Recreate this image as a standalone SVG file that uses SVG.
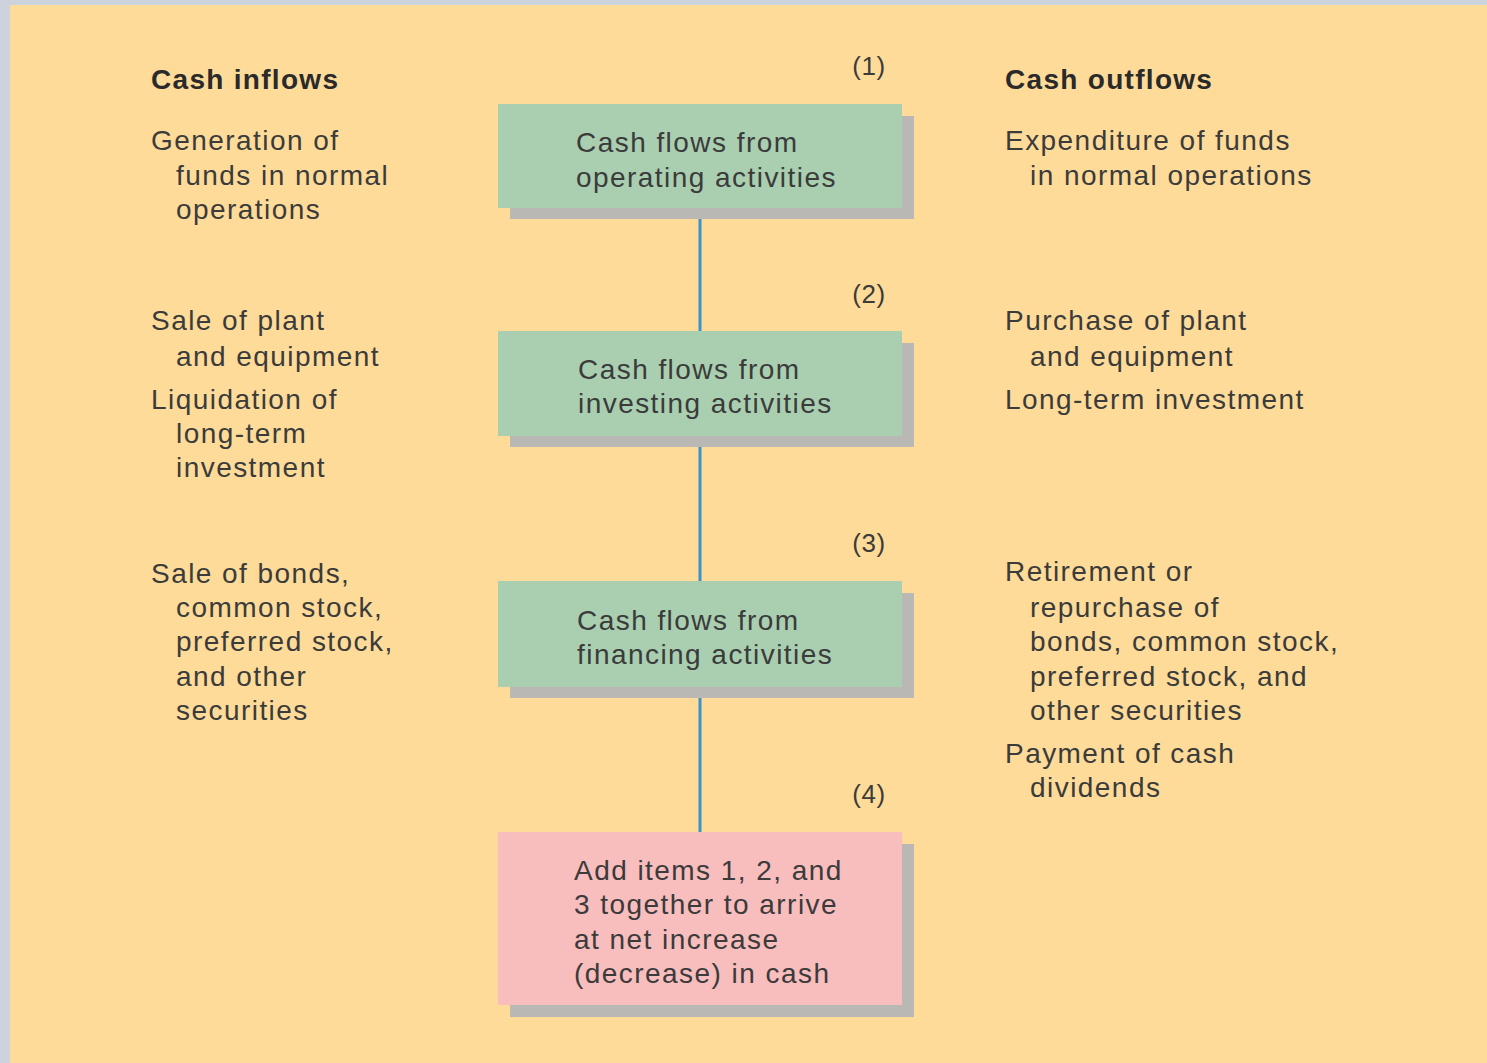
<svg xmlns="http://www.w3.org/2000/svg" width="1487" height="1063" viewBox="0 0 1487 1063">
<style>
text{font-family:"Liberation Sans",Arial,sans-serif;font-size:28px;fill:#3b3b3b;letter-spacing:1.45px}
.h{font-weight:bold;fill:#2a2a2a;letter-spacing:1.3px}
.n{font-size:26px;letter-spacing:0.5px;text-anchor:middle}
.sh{fill:#b9b8b4}
.g{fill:#a9cfb0}
.p{fill:#f8bdbd}
.c{stroke:#3a93cc;stroke-width:3;fill:none}
</style>
<rect x="0" y="0" width="1487" height="1063" fill="#cdd3dc"/>
<rect x="10" y="5" width="1477" height="1058" fill="#fedb98"/>
<g id="connectors">
<line class="c" x1="700" y1="208" x2="700" y2="331"/>
<line class="c" x1="700" y1="436" x2="700" y2="581"/>
<line class="c" x1="700" y1="687" x2="700" y2="832"/>
</g>
<g id="header-left"><text class="h" x="151" y="89">Cash inflows</text></g>
<g id="header-right"><text class="h" x="1005" y="89">Cash outflows</text></g>
<g id="node1">
<rect class="sh" x="510" y="116" width="404" height="103"/>
<rect class="g" x="498" y="104" width="404" height="104"/>
<text x="576" y="152">Cash flows from</text>
<text x="576" y="187">operating activities</text>
<text class="n" x="869" y="75">(1)</text>
</g>
<g id="node2">
<rect class="sh" x="510" y="343" width="404" height="104"/>
<rect class="g" x="498" y="331" width="404" height="105"/>
<text x="578" y="379">Cash flows from</text>
<text x="578" y="413">investing activities</text>
<text class="n" x="869" y="303">(2)</text>
</g>
<g id="node3">
<rect class="sh" x="510" y="593" width="404" height="105"/>
<rect class="g" x="498" y="581" width="404" height="106"/>
<text x="577" y="630">Cash flows from</text>
<text x="577" y="664">financing activities</text>
<text class="n" x="869" y="552">(3)</text>
</g>
<g id="node4">
<rect class="sh" x="510" y="844" width="404" height="173"/>
<rect class="p" x="498" y="832" width="404" height="173"/>
<text x="574" y="880">Add items 1, 2, and</text>
<text x="574" y="914">3 together to arrive</text>
<text x="574" y="949">at net increase</text>
<text x="574" y="983">(decrease) in cash</text>
<text class="n" x="869" y="803">(4)</text>
</g>
<g id="inflows">
<text x="151" y="150">Generation of</text>
<text x="176" y="185">funds in normal</text>
<text x="176" y="219">operations</text>
<text x="151" y="330">Sale of plant</text>
<text x="176" y="366">and equipment</text>
<text x="151" y="409">Liquidation of</text>
<text x="176" y="443">long-term</text>
<text x="176" y="477">investment</text>
<text x="151" y="583">Sale of bonds,</text>
<text x="176" y="617">common stock,</text>
<text x="176" y="651">preferred stock,</text>
<text x="176" y="686">and other</text>
<text x="176" y="720">securities</text>
</g>
<g id="outflows">
<text x="1005" y="150">Expenditure of funds</text>
<text x="1030" y="185">in normal operations</text>
<text x="1005" y="330">Purchase of plant</text>
<text x="1030" y="366">and equipment</text>
<text x="1005" y="409">Long-term investment</text>
<text x="1005" y="581">Retirement or</text>
<text x="1030" y="617">repurchase of</text>
<text x="1030" y="651">bonds, common stock,</text>
<text x="1030" y="686">preferred stock, and</text>
<text x="1030" y="720">other securities</text>
<text x="1005" y="763">Payment of cash</text>
<text x="1030" y="797">dividends</text>
</g>
</svg>
